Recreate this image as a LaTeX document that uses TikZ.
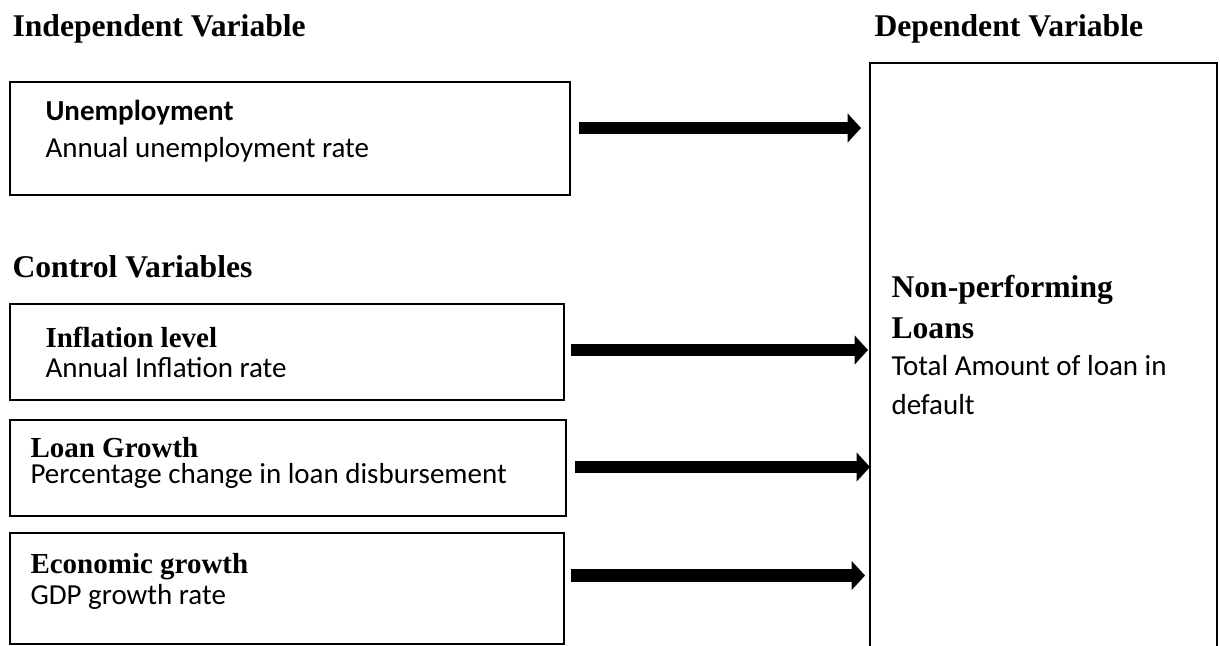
\documentclass[tikz,border=0pt]{standalone}
\usepackage{fontspec}
\setmainfont{Liberation Serif}
\newfontfamily\calibri{Carlito}
\usetikzlibrary{arrows.meta,fit,calc}
\begin{document}
\begin{tikzpicture}[x=0.3794pt,y=-0.3794pt,
  box/.style={draw,line width=0.65pt,inner sep=0pt,outer sep=0pt},
  heading/.style={font=\fontsize{12}{14}\selectfont\bfseries,anchor=base west,inner sep=0pt},
  label/.style={font=\fontsize{11}{13}\selectfont\bfseries,anchor=base west,inner sep=0pt},
  labelsans/.style={font=\calibri\fontsize{11}{13}\selectfont\bfseries,anchor=base west,inner sep=0pt},
  desc/.style={font=\calibri\fontsize{11}{13}\selectfont,anchor=base west,inner sep=0pt},
  bigarrow/.style={line width=4.9pt,-{Triangle[length=5.1pt,width=10.8pt]}}
]
\useasboundingbox (0,0) rectangle (1220,645);
\clip (0,0) rectangle (1220,645);

% headings
\node[heading] (hind) at (12,36) {Independent Variable};
\node[heading] (hdep) at (874,36) {Dependent Variable};
\node[heading] (hctl) at (12,277) {Control Variables};

% boxes
\node[box,fit={(10,82)(570,195)}] (b1) {};
\node[box,fit={(10,304)(564,400)}] (b2) {};
\node[box,fit={(10,420)(566,516)}] (b3) {};
\node[box,fit={(10,533)(564,644)}] (b4) {};
\node[box,fit={(870,63)(1217,700)}] (npl) {};

% box texts
\node[labelsans] (t1) at (45,120) {Unemployment};
\node[desc] (d1) at (45,157) {Annual unemployment rate};
\node[label] (t2) at (45,347) {Inflation level};
\node[desc] (d2) at (45,377) {Annual Inflation rate};
\node[label] (t3) at (30,457) {Loan Growth};
\node[desc] (d3) at (30,483) {Percentage change in loan disbursement};
\node[label] (t4) at (30,573) {Economic growth};
\node[desc] (d4) at (30,604) {GDP growth rate};

\node[heading] (n1) at (891,297) {Non-performing};
\node[heading] (n2) at (891,338) {Loans};
\node[desc] (n3) at (891,375) {Total Amount of loan in};
\node[desc] (n4) at (891,414) {default};

% arrows
\draw[bigarrow] ($(b1.east)+(9,-10.5)$) -- ($(b1.east -| npl.west)+(-9,-10.5)$);
\draw[bigarrow] ($(b2.east)+(7,-2)$) -- ($(b2.east -| npl.west)+(-2,-2)$);
\draw[bigarrow] ($(b3.east)+(9,-1)$) -- ($(b3.east -| npl.west)+(0,-1)$);
\draw[bigarrow] ($(b4.east)+(7,-13)$) -- ($(b4.east -| npl.west)+(-5,-13)$);
\end{tikzpicture}
\end{document}
